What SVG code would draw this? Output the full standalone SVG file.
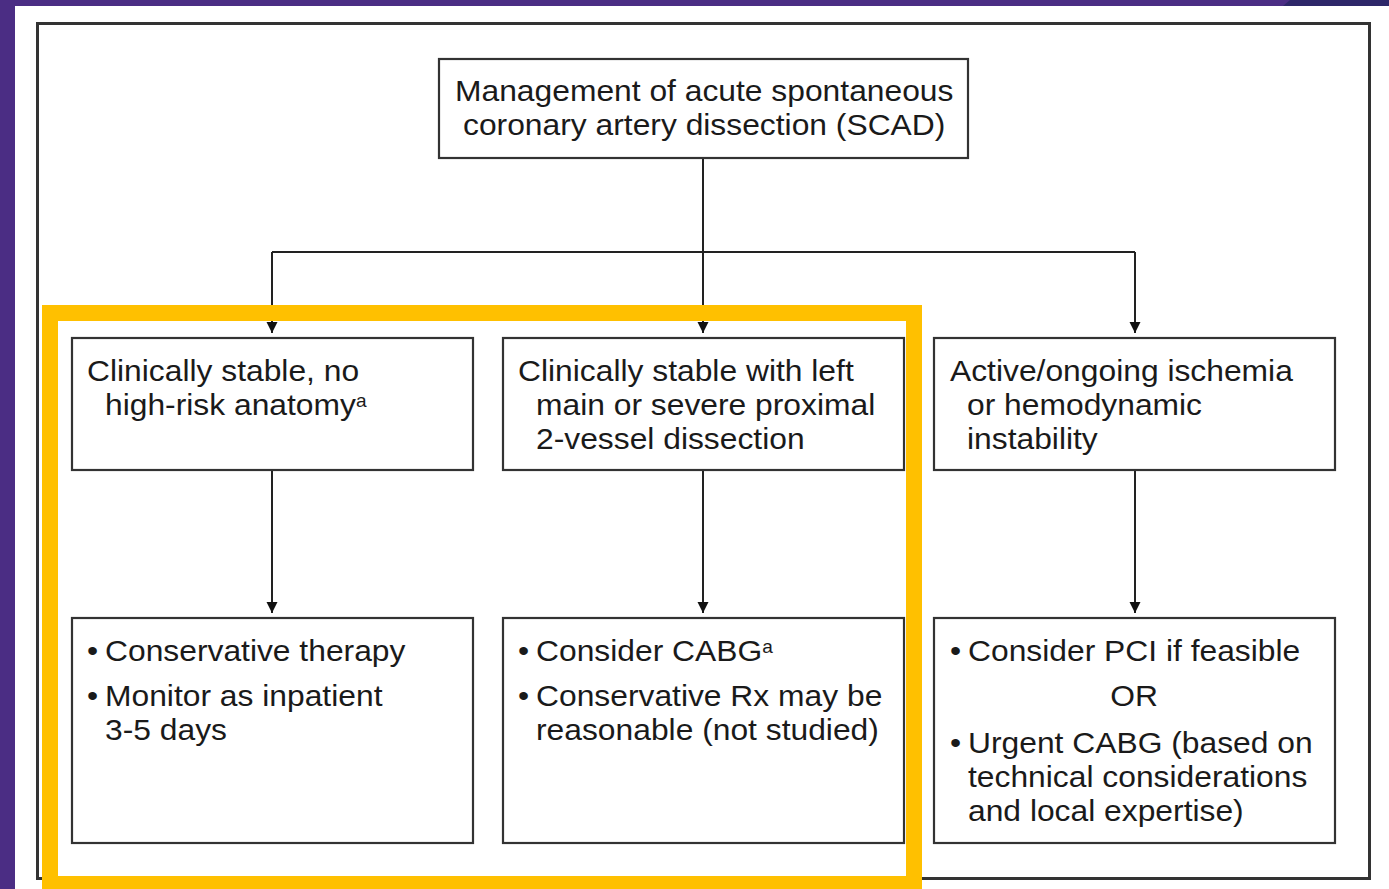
<svg xmlns="http://www.w3.org/2000/svg" width="1389" height="889" viewBox="0 0 1389 889">
<defs>
<style>
.t{font-family:"Liberation Sans",Arial,sans-serif;font-size:30px;fill:#1a1a1a}
.sup{font-size:18px}
.box{fill:#fff;stroke:#333;stroke-width:2.2}
.ln{fill:none;stroke:#222;stroke-width:2}
</style>
<marker id="ah" viewBox="0 0 10 10" refX="10" refY="5" markerWidth="11" markerHeight="12" markerUnits="userSpaceOnUse" orient="auto">
<path d="M0,0 L10,5 L0,10 Z" fill="#111"/>
</marker>
</defs>
<rect x="0" y="0" width="1389" height="889" fill="#fff"/>
<rect x="0" y="0" width="1389" height="6" fill="#4B2D84"/>
<polygon points="1290,0 1389,0 1389,6 1283,6" fill="#2D2769"/>
<rect x="0" y="0" width="15" height="889" fill="#4B2D84"/>
<rect x="37.5" y="23.5" width="1332" height="855" fill="none" stroke="#333" stroke-width="3"/>

<g id="connectors">
<path class="ln" d="M703,158 V333" marker-end="url(#ah)"/>
<path class="ln" d="M272,252 H1135"/>
<path class="ln" d="M272,252 V333" marker-end="url(#ah)"/>
<path class="ln" d="M1135,252 V333" marker-end="url(#ah)"/>
<path class="ln" d="M272,470 V613" marker-end="url(#ah)"/>
<path class="ln" d="M703,470 V613" marker-end="url(#ah)"/>
<path class="ln" d="M1135,470 V613" marker-end="url(#ah)"/>
</g>

<g id="root">
<rect class="box" x="439" y="59" width="529" height="99"/>
<text class="t" transform="translate(455,101) scale(1.06,1)">Management of acute spontaneous</text>
<text class="t" transform="translate(463,135) scale(1.06,1)">coronary artery dissection (SCAD)</text>
</g>

<g id="stable-low">
<rect class="box" x="72" y="338" width="401" height="132"/>
<text class="t" transform="translate(87,381) scale(1.06,1)">Clinically stable, no</text>
<text class="t" transform="translate(105,415) scale(1.06,1)">high-risk anatomy<tspan class="sup" dy="-8">a</tspan></text>
</g>

<g id="stable-high">
<rect class="box" x="503" y="338" width="401" height="132"/>
<text class="t" transform="translate(518,381) scale(1.06,1)">Clinically stable with left</text>
<text class="t" transform="translate(536,415) scale(1.06,1)">main or severe proximal</text>
<text class="t" transform="translate(536,449) scale(1.06,1)">2-vessel dissection</text>
</g>

<g id="unstable">
<rect class="box" x="934" y="338" width="401" height="132"/>
<text class="t" transform="translate(950,381) scale(1.06,1)">Active/ongoing ischemia</text>
<text class="t" transform="translate(967,415) scale(1.06,1)">or hemodynamic</text>
<text class="t" transform="translate(967,449) scale(1.06,1)">instability</text>
</g>

<g id="tx-low">
<rect class="box" x="72" y="618" width="401" height="225"/>
<text class="t" transform="translate(87,661) scale(1.06,1)">•</text>
<text class="t" transform="translate(105,661) scale(1.06,1)">Conservative therapy</text>
<text class="t" transform="translate(87,706) scale(1.06,1)">•</text>
<text class="t" transform="translate(105,706) scale(1.06,1)">Monitor as inpatient</text>
<text class="t" transform="translate(105,740) scale(1.06,1)">3-5 days</text>
</g>

<g id="tx-high">
<rect class="box" x="503" y="618" width="401" height="225"/>
<text class="t" transform="translate(518,661) scale(1.06,1)">•</text>
<text class="t" transform="translate(536,661) scale(1.06,1)">Consider CABG<tspan class="sup" dy="-8">a</tspan></text>
<text class="t" transform="translate(518,706) scale(1.06,1)">•</text>
<text class="t" transform="translate(536,706) scale(1.06,1)">Conservative Rx may be</text>
<text class="t" transform="translate(536,740) scale(1.06,1)">reasonable (not studied)</text>
</g>

<g id="tx-unstable">
<rect class="box" x="934" y="618" width="401" height="225"/>
<text class="t" transform="translate(950,661) scale(1.06,1)">•</text>
<text class="t" transform="translate(968,661) scale(1.06,1)">Consider PCI if feasible</text>
<text class="t" text-anchor="middle" transform="translate(1134,706) scale(1.06,1)">OR</text>
<text class="t" transform="translate(950,753) scale(1.06,1)">•</text>
<text class="t" transform="translate(968,753) scale(1.06,1)">Urgent CABG (based on</text>
<text class="t" transform="translate(968,787) scale(1.06,1)">technical considerations</text>
<text class="t" transform="translate(968,821) scale(1.06,1)">and local expertise)</text>
</g>

<rect x="50" y="313" width="864" height="571" fill="none" stroke="#FFC000" stroke-width="16"/>
</svg>
